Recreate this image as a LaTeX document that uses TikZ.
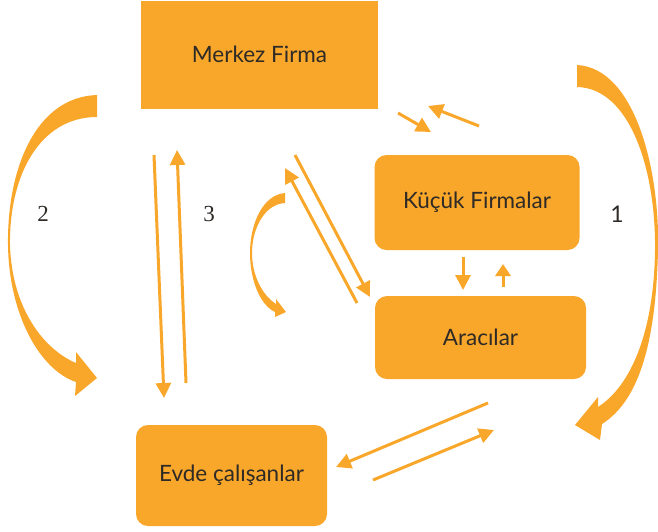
\documentclass[tikz,border=0pt]{standalone}
\usepackage{fontspec}
\setmainfont{Lato}
\newfontfamily\numserif{Liberation Serif}
\usetikzlibrary{arrows.meta}
\definecolor{orng}{HTML}{F9A72B}
\definecolor{txt}{HTML}{2E2A26}
\tikzset{
  box/.style={fill=orng, draw=none, text=txt, font=\fontsize{22.5}{26}\selectfont, inner sep=0pt, rounded corners=12pt},
  flow/.style={draw=orng, line width=3pt, -{Triangle[length=15pt,width=15pt]}},
  small/.style={draw=orng, line width=3pt, -{Triangle[length=12pt,width=15pt]}},
  curv/.style={fill=orng, draw=none},
  num/.style={text=txt, font=\fontsize{23}{26}\selectfont, inner sep=0pt}
}
\begin{document}
\begin{tikzpicture}[x=1pt,y=-1pt]
\useasboundingbox (0,0) rectangle (658,531);
% boxes
\node[box, rounded corners=0pt, minimum width=237pt, minimum height=108pt] (merkez) at (259.5,55) {\raisebox{2pt}{Merkez Firma}};
\node[box, minimum width=205pt, minimum height=95pt] (kucuk) at (477,202.5) {\raisebox{-6pt}{Küçük Firmalar}};
\node[box, minimum width=211pt, minimum height=83pt] (aracilar) at (480.5,337.5) {Aracılar};
\node[box, minimum width=191pt, minimum height=101pt] (evde) at (231.5,475.5) {\raisebox{-1pt}{Evde çalışanlar}};
% labels
\node[num, font=\numserif\fontsize{23}{26}\selectfont] (n2) at (43,214) {2};
\node[num, font=\numserif\fontsize{23}{26}\selectfont] (n3) at (209,214) {3};
\node[num] (n1) at (617,214) {1};
% big curved arrow 2
\fill[curv] (97,95) .. controls (35,97) and (7,170) .. (8,245) .. controls (9,315) and (40,370) .. (76,382)
  -- (75,396) -- (97,378) -- (76,352) -- (76,363)
  .. controls (45,350) and (12,310) .. (10,245) .. controls (9,175) and (40,117) .. (97,117) -- cycle;
% big curved arrow 1
\fill[curv] (577,65) .. controls (635,68) and (660,170) .. (658,250) .. controls (656,340) and (640,400) .. (602,424)
  -- (600,440) -- (575,425) -- (598,397) -- (598,407)
  .. controls (632,385) and (654,330) .. (655,250) .. controls (656,170) and (630,88) .. (577,87) -- cycle;
% small curved arrow 3
\fill[curv] (285,193) .. controls (262,195) and (250,225) .. (250,253) .. controls (250,280) and (260,305) .. (275,312)
  -- (275,317) -- (286,312) -- (276,299) -- (276,304)
  .. controls (262,295) and (252,275) .. (252,253) .. controls (252,228) and (265,204) .. (285,203) -- cycle;
% straight arrows coordinates
\coordinate (a1s) at (295,155); \coordinate (a1e) at (370,297);
\coordinate (a2s) at (357,303); \coordinate (a2e) at (285,168);
\coordinate (v1s) at (154,155); \coordinate (v1e) at (164,398);
\coordinate (v2s) at (186,383); \coordinate (v2e) at (177,150);
\coordinate (t1s) at (398,113); \coordinate (t1e) at (431,132);
\coordinate (t2s) at (479,126); \coordinate (t2e) at (428,106);
\coordinate (d1s) at (463,257); \coordinate (d1e) at (463,290);
\coordinate (u1s) at (503,287); \coordinate (u1e) at (503,264);
\coordinate (b1s) at (488,403); \coordinate (b1e) at (336,467);
\coordinate (b2s) at (373,480); \coordinate (b2e) at (494,430);
\draw[flow] (a1s) -- (a1e);
\draw[flow] (a2s) -- (a2e);
\draw[flow] (v1s) -- (v1e);
\draw[flow] (v2s) -- (v2e);
\draw[flow] (t1s) -- (t1e);
\draw[flow] (t2s) -- (t2e);
\draw[flow] (d1s) -- (d1e);
\draw[small] (u1s) -- (u1e);
\draw[flow] (b1s) -- (b1e);
\draw[flow] (b2s) -- (b2e);
\end{tikzpicture}
\end{document}
